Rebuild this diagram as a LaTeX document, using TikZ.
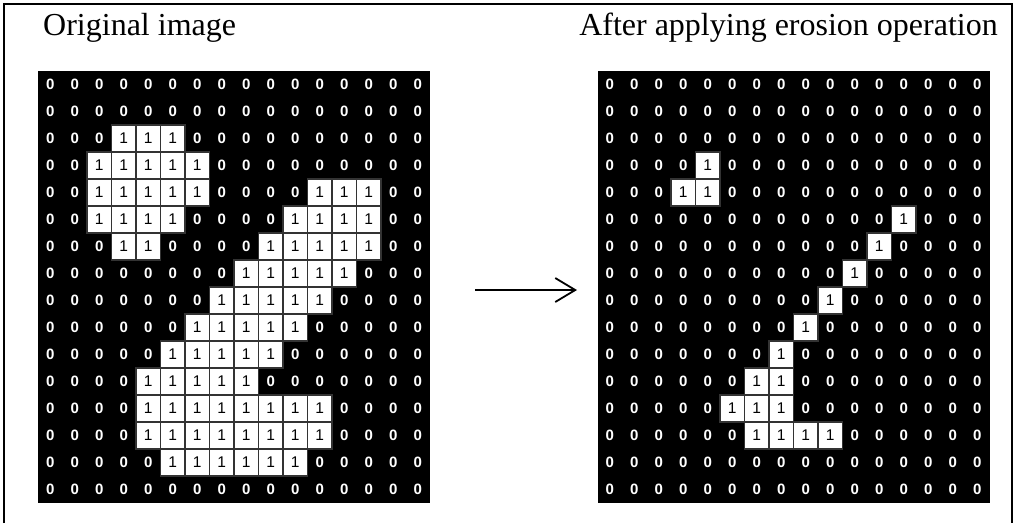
\documentclass[tikz,border=0pt]{standalone}
\usepackage{fontspec}
\setmainfont{Liberation Serif}
\newfontfamily\digitfont{Liberation Sans}
\usetikzlibrary{arrows.meta}
\tikzset{
  cellbase/.style={inner sep=0pt,minimum width=24.5pt,minimum height=27pt},
  zerocell/.style={cellbase,text=white,font=\digitfont\bfseries\fontsize{15}{15}\selectfont},
  onecell/.style={cellbase,fill=white,draw=black!80,line width=1.3pt,text=black,
    font=\digitfont\fontsize{15.5}{15.5}\selectfont},
  gridbg/.style={fill=black,inner sep=0pt,minimum width=392pt,minimum height=432pt,anchor=north west},
  titletext/.style={font=\fontsize{32}{32}\selectfont,inner sep=0pt},
  bigarrow/.style={-{Straight Barb[length=20pt,width=24pt,line width=1.8pt]},line width=1.8pt},
  framerule/.style={line width=2.6pt}
}
\begin{document}
\begin{tikzpicture}[x=1pt,y=-1pt]
\useasboundingbox (0,0) rectangle (1016,523);
\draw[framerule] (4,523) -- (4,4) -- (1012,4) -- (1012,523);

\node[titletext,anchor=base west] (ltitle) at (43,35) {Original image};
\node[titletext,anchor=base east] (rtitle) at (998,35) {After applying erosion operation};

\node[gridbg] (Lgrid) at (38,71) {};
\node[gridbg] (Rgrid) at (597.5,71) {};

% left grid data
\foreach \r/\rowdata in {
 1/{0,0,0,0,0,0,0,0,0,0,0,0,0,0,0,0},
 2/{0,0,0,0,0,0,0,0,0,0,0,0,0,0,0,0},
 3/{0,0,0,1,1,1,0,0,0,0,0,0,0,0,0,0},
 4/{0,0,1,1,1,1,1,0,0,0,0,0,0,0,0,0},
 5/{0,0,1,1,1,1,1,0,0,0,0,1,1,1,0,0},
 6/{0,0,1,1,1,1,0,0,0,0,1,1,1,1,0,0},
 7/{0,0,0,1,1,0,0,0,0,1,1,1,1,1,0,0},
 8/{0,0,0,0,0,0,0,0,1,1,1,1,1,0,0,0},
 9/{0,0,0,0,0,0,0,1,1,1,1,1,0,0,0,0},
 10/{0,0,0,0,0,0,1,1,1,1,1,0,0,0,0,0},
 11/{0,0,0,0,0,1,1,1,1,1,0,0,0,0,0,0},
 12/{0,0,0,0,1,1,1,1,1,0,0,0,0,0,0,0},
 13/{0,0,0,0,1,1,1,1,1,1,1,1,0,0,0,0},
 14/{0,0,0,0,1,1,1,1,1,1,1,1,0,0,0,0},
 15/{0,0,0,0,0,1,1,1,1,1,1,0,0,0,0,0},
 16/{0,0,0,0,0,0,0,0,0,0,0,0,0,0,0,0}}{
  \foreach \v [count=\c] in \rowdata {
    \ifnum\v=1
      \node[onecell] (L-\r-\c) at ({38+(\c-0.5)*24.5},{71+(\r-0.5)*27}) {1};
    \else
      \node[zerocell] (L-\r-\c) at ({38+(\c-0.5)*24.5},{71+(\r-0.5)*27}) {0};
    \fi
  }
}

% right grid data
\foreach \r/\rowdata in {
 1/{0,0,0,0,0,0,0,0,0,0,0,0,0,0,0,0},
 2/{0,0,0,0,0,0,0,0,0,0,0,0,0,0,0,0},
 3/{0,0,0,0,0,0,0,0,0,0,0,0,0,0,0,0},
 4/{0,0,0,0,1,0,0,0,0,0,0,0,0,0,0,0},
 5/{0,0,0,1,1,0,0,0,0,0,0,0,0,0,0,0},
 6/{0,0,0,0,0,0,0,0,0,0,0,0,1,0,0,0},
 7/{0,0,0,0,0,0,0,0,0,0,0,1,0,0,0,0},
 8/{0,0,0,0,0,0,0,0,0,0,1,0,0,0,0,0},
 9/{0,0,0,0,0,0,0,0,0,1,0,0,0,0,0,0},
 10/{0,0,0,0,0,0,0,0,1,0,0,0,0,0,0,0},
 11/{0,0,0,0,0,0,0,1,0,0,0,0,0,0,0,0},
 12/{0,0,0,0,0,0,1,1,0,0,0,0,0,0,0,0},
 13/{0,0,0,0,0,1,1,1,0,0,0,0,0,0,0,0},
 14/{0,0,0,0,0,0,1,1,1,1,0,0,0,0,0,0},
 15/{0,0,0,0,0,0,0,0,0,0,0,0,0,0,0,0},
 16/{0,0,0,0,0,0,0,0,0,0,0,0,0,0,0,0}}{
  \foreach \v [count=\c] in \rowdata {
    \ifnum\v=1
      \node[onecell] (R-\r-\c) at ({597.5+(\c-0.5)*24.5},{71+(\r-0.5)*27}) {1};
    \else
      \node[zerocell] (R-\r-\c) at ({597.5+(\c-0.5)*24.5},{71+(\r-0.5)*27}) {0};
    \fi
  }
}

\coordinate (atail) at (475,290);
\coordinate (ahead) at (577,290);
\draw[bigarrow] (atail) -- (ahead);
\end{tikzpicture}
\end{document}
